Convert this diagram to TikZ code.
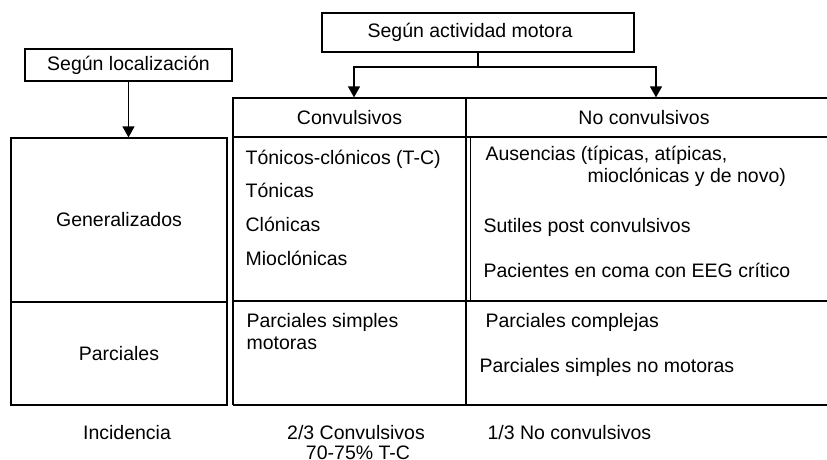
\documentclass[tikz,border=0pt]{standalone}
\usepackage{fontspec}
\setmainfont{Liberation Sans}
\usetikzlibrary{arrows.meta}
\begin{document}
\begin{tikzpicture}[x=1pt,y=-1pt, line width=1.2pt,
  box/.style={draw, inner sep=0pt, font=\fontsize{19.5}{23}\selectfont},
  txt/.style={inner sep=0pt, anchor=west, text height=14pt, text depth=0pt, font=\fontsize{19.5}{23}\selectfont},
  ctxt/.style={txt, anchor=center},
  arr/.style={-{Triangle[length=11pt,width=12pt]}}]
\useasboundingbox (0,0) rectangle (827,460);
% top boxes
\node[box, minimum width=207pt, minimum height=32pt] (loc) at (128.5,65) {Según localización};
\node[box, minimum width=312pt, minimum height=39pt] (mot) at (478,32.5) {\hspace*{-16pt}Según actividad motora};
% left boxes
\node[box, minimum width=216pt, minimum height=164pt] (gen) at (119,220) {Generalizados};
\node[box, minimum width=216pt, minimum height=103pt] (par) at (119,353.5) {Parciales};
% header
\node[box, minimum width=233pt, minimum height=39pt] (conv) at (349.5,117.5) {Convulsivos};
\node[ctxt] (noconv) at (644,117.5) {No convulsivos};
% grid
\draw (466,98) -- (827,98);
\draw (466,137) -- (827,137);
\draw (466,98) -- (466,405);
\draw (470.5,137) -- (470.5,301);
\draw (233,137) -- (233,405);
\draw (233,301) -- (827,301);
\draw (233,405) -- (827,405);
% connectors
\coordinate (mj) at (478,67);
\coordinate (jl) at (354,67);
\coordinate (jr) at (656,67);
\draw (mot.south) -- (mj);
\draw[arr] (mj) -| (jl |- conv.north);
\draw[arr] (mj) -| (jr |- conv.north);
\draw[arr] (loc.south) -- (loc.south |- gen.north);
% contents
\node[txt] (t1) at (245,157) {Tónicos-clónicos (T-C)};
\node[txt] (t2) at (245,190) {Tónicas};
\node[txt] (t3) at (245,224) {Clónicas};
\node[txt] (t4) at (245,258) {Mioclónicas};
\node[txt] (n1) at (485,153) {Ausencias (típicas, atípicas,};
\node[txt] (n1b) at (587,175) {mioclónicas y de novo)};
\node[txt] (n2) at (483,225) {Sutiles post convulsivos};
\node[txt] (n3) at (483,270) {Pacientes en coma con EEG crítico};
\node[txt] (p1) at (246,320) {Parciales simples};
\node[txt] (p1b) at (246,342) {motoras};
\node[txt] (p2) at (485,320) {Parciales complejas};
\node[txt] (p3) at (479,365) {Parciales simples no motoras};
% incidence
\node[ctxt] (inc) at (127,432) {Incidencia};
\node[ctxt] (i1) at (356,432) {2/3 Convulsivos};
\node[ctxt] (i1b) at (358,452) {70-75\% T-C};
\node[txt] (i2) at (487,432) {1/3 No convulsivos};
\end{tikzpicture}
\end{document}
